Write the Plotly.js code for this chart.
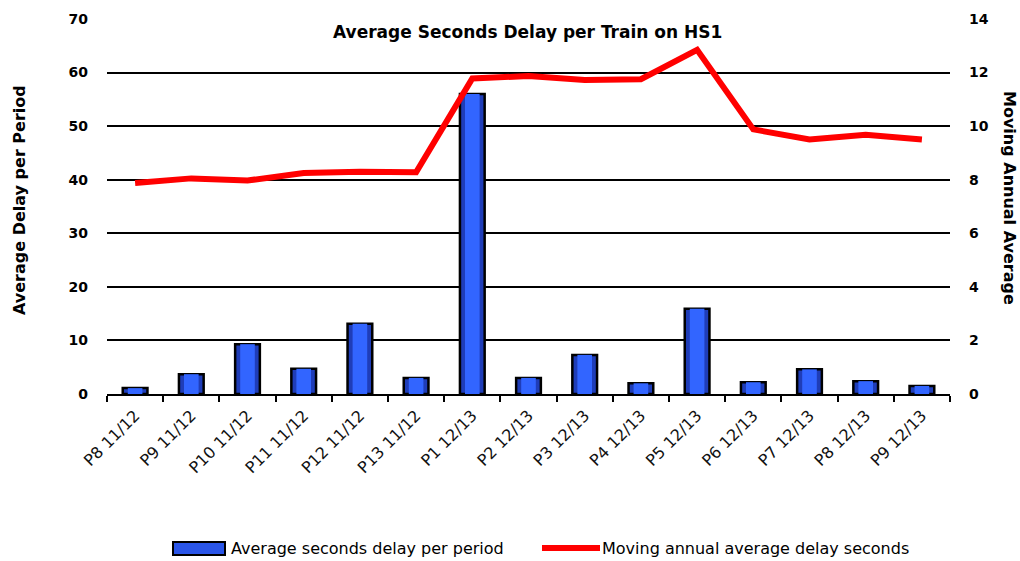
<!DOCTYPE html>
<html>
<head>
<meta charset="utf-8">
<script src="https://cdn.plot.ly/plotly-3.0.1.min.js"></script>
<style>html,body{margin:0;padding:0;background:#fff;}#chart{width:1020px;height:561px;}</style>
</head>
<body>
<div id="chart"></div>
<script>
var periods = ["P8 11/12","P9 11/12","P10 11/12","P11 11/12","P12 11/12","P13 11/12","P1 12/13","P2 12/13","P3 12/13","P4 12/13","P5 12/13","P6 12/13","P7 12/13","P8 12/13","P9 12/13"];
var delayPerPeriod = [1.1, 3.7, 9.3, 4.7, 13.1, 3.0, 56.0, 3.0, 7.3, 2.0, 15.9, 2.2, 4.6, 2.4, 1.5];
var movingAnnualAvg = [7.88, 8.05, 7.97, 8.25, 8.3, 8.28, 11.78, 11.87, 11.72, 11.75, 12.85, 9.88, 9.5, 9.68, 9.5];
var leftTicks = [0,10,20,30,40,50,60,70];
var rightTicks = [0,2,4,6,8,10,12,14];
var barName = "Average seconds delay per period";
var lineName = "Moving annual average delay seconds";

var FONT = "'DejaVu Sans', sans-serif";

var traces = [
  {
    type: "bar", x: periods, y: delayPerPeriod, name: barName, yaxis: "y",
    marker: {color: "#1F3DB8", line: {color: "#000000", width: 2.5}},
    width: 0.44, showlegend: false, hoverinfo: "x+y"
  },
  {
    type: "bar", x: periods, y: delayPerPeriod, name: barName + " (highlight)", yaxis: "y",
    marker: {color: "#3265FF", line: {width: 0}},
    width: 0.26, showlegend: false, hoverinfo: "skip"
  },
  {
    type: "scatter", mode: "lines", x: periods, y: movingAnnualAvg, name: lineName, yaxis: "y2",
    line: {color: "#FF0000", width: 6}, showlegend: false
  }
];

var legY = -(548-394)/375;
var layout = {
  width: 1020, height: 561,
  margin: {l: 107, r: 70, t: 19, b: 167},
  paper_bgcolor: "#ffffff", plot_bgcolor: "#ffffff",
  font: {family: FONT, color: "#000", size: 13},
  showlegend: false,
  barmode: "overlay",
  xaxis: {
    type: "category",
    tickangle: -45,
    ticks: "outside", ticklen: 6, tickwidth: 2, tickcolor: "#000",
    tickson: "boundaries",
    showline: true, linecolor: "#000", linewidth: 2,
    showgrid: false, zeroline: false,
    ticklabelstandoff: 4,
    tickfont: {family: FONT, size: 16, color: "#111"},
    range: [-0.5, 14.5]
  },
  yaxis: {
    range: [0, 70], tickvals: leftTicks, ticktext: leftTicks.map(String),
    showgrid: true, gridcolor: "#000", gridwidth: 2,
    zeroline: false, showline: false, ticks: "",
    ticklabelstandoff: 18,
    tickfont: {family: FONT, size: 14, color: "#000", weight: "bold"}
  },
  yaxis2: {
    overlaying: "y", side: "right",
    range: [0, 14], tickvals: rightTicks, ticktext: rightTicks.map(String),
    showgrid: false, zeroline: false, showline: false, ticks: "",
    ticklabelstandoff: 18,
    tickfont: {family: FONT, size: 14, color: "#000", weight: "bold"}
  },
  annotations: [
    {text: "<b>Average Seconds Delay per Train on HS1</b>", xref: "paper", yref: "paper",
     x: (527-107)/843, y: 1-(32-19)/375, xanchor: "center", yanchor: "middle", showarrow: false,
     font: {family: FONT, size: 17, color: "#000"}},
    {text: "<b>Average Delay per Period</b>", xref: "paper", yref: "paper",
     x: -(107-19)/843, xanchor: "center", y: (394-200)/375, yanchor: "middle", textangle: -90, showarrow: false,
     font: {family: FONT, size: 16, color: "#000"}},
    {text: "<b>Moving Annual Average</b>", xref: "paper", yref: "paper",
     x: 1+(1010-950)/843, xanchor: "center", y: (394-198)/375, yanchor: "middle", textangle: 90, showarrow: false,
     font: {family: FONT, size: 16, color: "#000"}},
    {text: barName, xref: "paper", yref: "paper", x: (229-107)/843, xanchor: "left",
     y: legY, yanchor: "middle", showarrow: false, font: {family: FONT, size: 16, color: "#000"}},
    {text: lineName, xref: "paper", yref: "paper", x: (600-107)/843, xanchor: "left",
     y: legY, yanchor: "middle", showarrow: false, font: {family: FONT, size: 16, color: "#000"}}
  ],
  shapes: [
    {type: "rect", xref: "paper", yref: "paper",
     x0: (173-107)/843, x1: (225-107)/843, y0: -(555-394)/375, y1: -(542-394)/375,
     fillcolor: "#2A55E8", line: {color: "#000", width: 2}},
    {type: "line", xref: "paper", yref: "paper",
     x0: (542-107)/843, x1: (600-107)/843, y0: legY, y1: legY,
     line: {color: "#FF0000", width: 6}}
  ]
};

Plotly.newPlot("chart", traces, layout, {displayModeBar: false, staticPlot: true});
</script>
</body>
</html>
